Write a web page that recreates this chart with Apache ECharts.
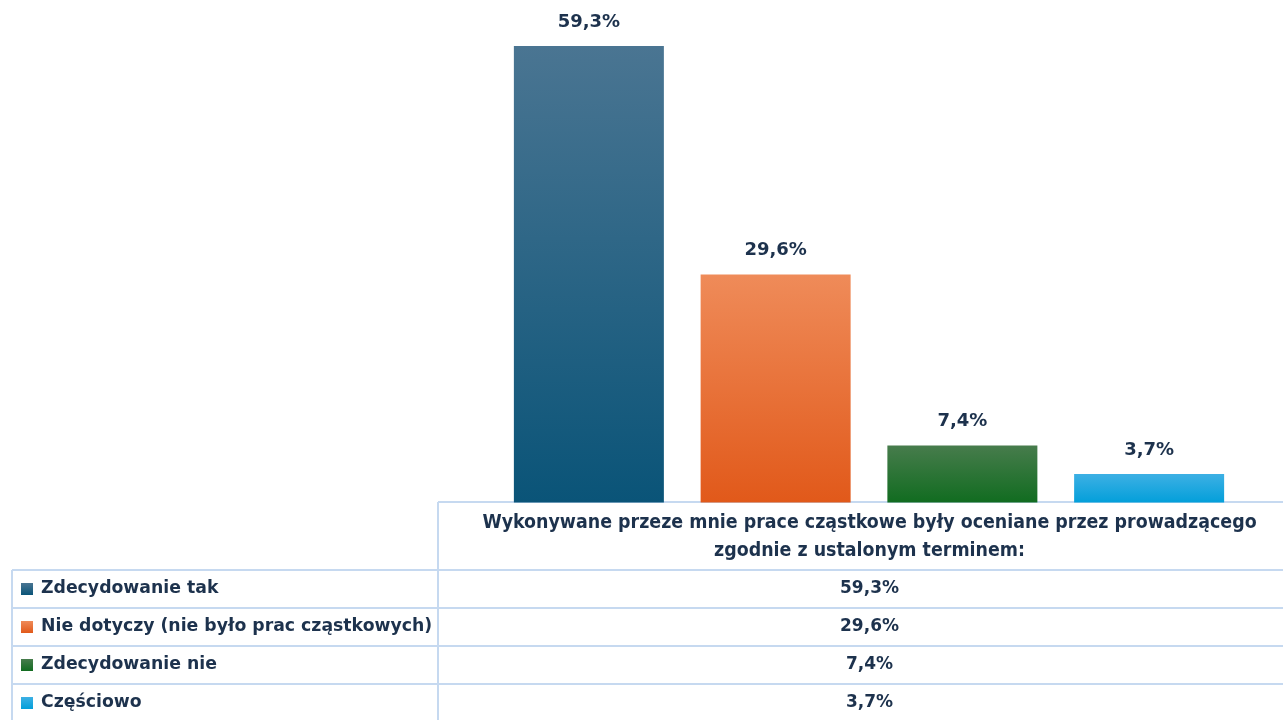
<!DOCTYPE html>
<html><head><meta charset="utf-8">
<script src="https://cdn.jsdelivr.net/npm/echarts@6/dist/echarts.min.js"></script>
<style>html,body{margin:0;padding:0;background:#fff}#c{width:1283px;height:720px}</style>
</head><body><div id="c"></div>
<script>
const categories = ['Wykonywane przeze mnie prace cząstkowe były oceniane przez prowadzącego', 'zgodnie z ustalonym terminem:'];
const seriesNames = ['Zdecydowanie tak', 'Nie dotyczy (nie było prac cząstkowych)', 'Zdecydowanie nie', 'Częściowo'];
const seriesValues = [59.3, 29.6, 7.4, 3.7];
const topColors = ['#4a7592', '#ef8b59', '#477c4c', '#3db0e4'];
const bottomColors = ['#0a5478', '#e1591a', '#116c20', '#039fda'];

const fmt = v => v.toFixed(1).replace('.', ',') + '%';
const textColor = '#1d324d';
const lineColor = '#c6d9f0';
const boldFont = '"DejaVu Sans", "Liberation Sans", sans-serif';

const tableLeft = 438, tableW = 863, baseY = 502.5, tableTop = 502, headerBottom = 570, rowH = 38;
const gridLeft = 455, gridW = 863;

const series = seriesNames.map((n, i) => ({
  name: n, type: 'bar', barWidth: 150, barGap: '24.5%',
  data: [seriesValues[i]],
  itemStyle: {
    color: {type: 'linear', x: 0, y: 0, x2: 0, y2: 1, colorStops: [{offset: 0, color: topColors[i]}, {offset: 1, color: bottomColors[i]}]}
  },
  label: {show: true, position: 'top', distance: 15, formatter: p => fmt(p.value), color: textColor, fontFamily: boldFont, fontWeight: 'bold', fontSize: 18}
}));

const graphics = [];
const rightX = tableLeft + tableW;
const cx = tableLeft + tableW / 2;
graphics.push({type: 'line', shape: {x1: tableLeft, y1: tableTop, x2: rightX, y2: tableTop}, style: {stroke: lineColor, lineWidth: 2}});
graphics.push({type: 'line', shape: {x1: tableLeft, y1: tableTop, x2: tableLeft, y2: 722}, style: {stroke: lineColor, lineWidth: 2}});
graphics.push({type: 'line', shape: {x1: 12, y1: headerBottom, x2: 12, y2: 722}, style: {stroke: lineColor, lineWidth: 2}});
for (let r = 0; r < seriesNames.length; r++) {
  const y = headerBottom + r * rowH;
  graphics.push({type: 'line', shape: {x1: 12, y1: y, x2: rightX, y2: y}, style: {stroke: lineColor, lineWidth: 2}});
  const cy = y + rowH / 2;
  graphics.push({type: 'rect', shape: {x: 21, y: cy - 6, width: 12, height: 12}, style: {fill: {type: 'linear', x: 0, y: 0, x2: 0, y2: 1, colorStops: [{offset: 0, color: topColors[r]}, {offset: 1, color: bottomColors[r]}]}}});
  graphics.push({type: 'text', x: 41, y: cy, style: {text: seriesNames[r], fill: textColor, font: 'bold 17.3px ' + boldFont, textVerticalAlign: 'middle', textAlign: 'left'}});
  graphics.push({type: 'text', x: cx, y: cy, style: {text: fmt(seriesValues[r]), fill: textColor, font: 'bold 17px ' + boldFont, textVerticalAlign: 'middle', textAlign: 'center'}});
}
categories.forEach((t, i) => {
  graphics.push({type: 'text', x: cx, y: 523 + i * 28, style: {text: t, fill: textColor, font: 'bold 19.4px "Liberation Sans Narrow", "DejaVu Sans Condensed", sans-serif', textVerticalAlign: 'middle', textAlign: 'center'}});
});

const chart = echarts.init(document.getElementById('c'), null, {renderer: 'canvas'});
chart.setOption({
  animation: false,
  grid: {left: gridLeft, top: baseY - 60 * 7.7, width: gridW, height: 60 * 7.7},
  xAxis: {type: 'category', data: [categories.join(' ')], axisLine: {show: false}, axisTick: {show: false}, axisLabel: {show: false}},
  yAxis: {type: 'value', min: 0, max: 60, show: false, splitLine: {show: false}},
  legend: {show: false},
  series: series,
  graphic: graphics
});
</script></body></html>
